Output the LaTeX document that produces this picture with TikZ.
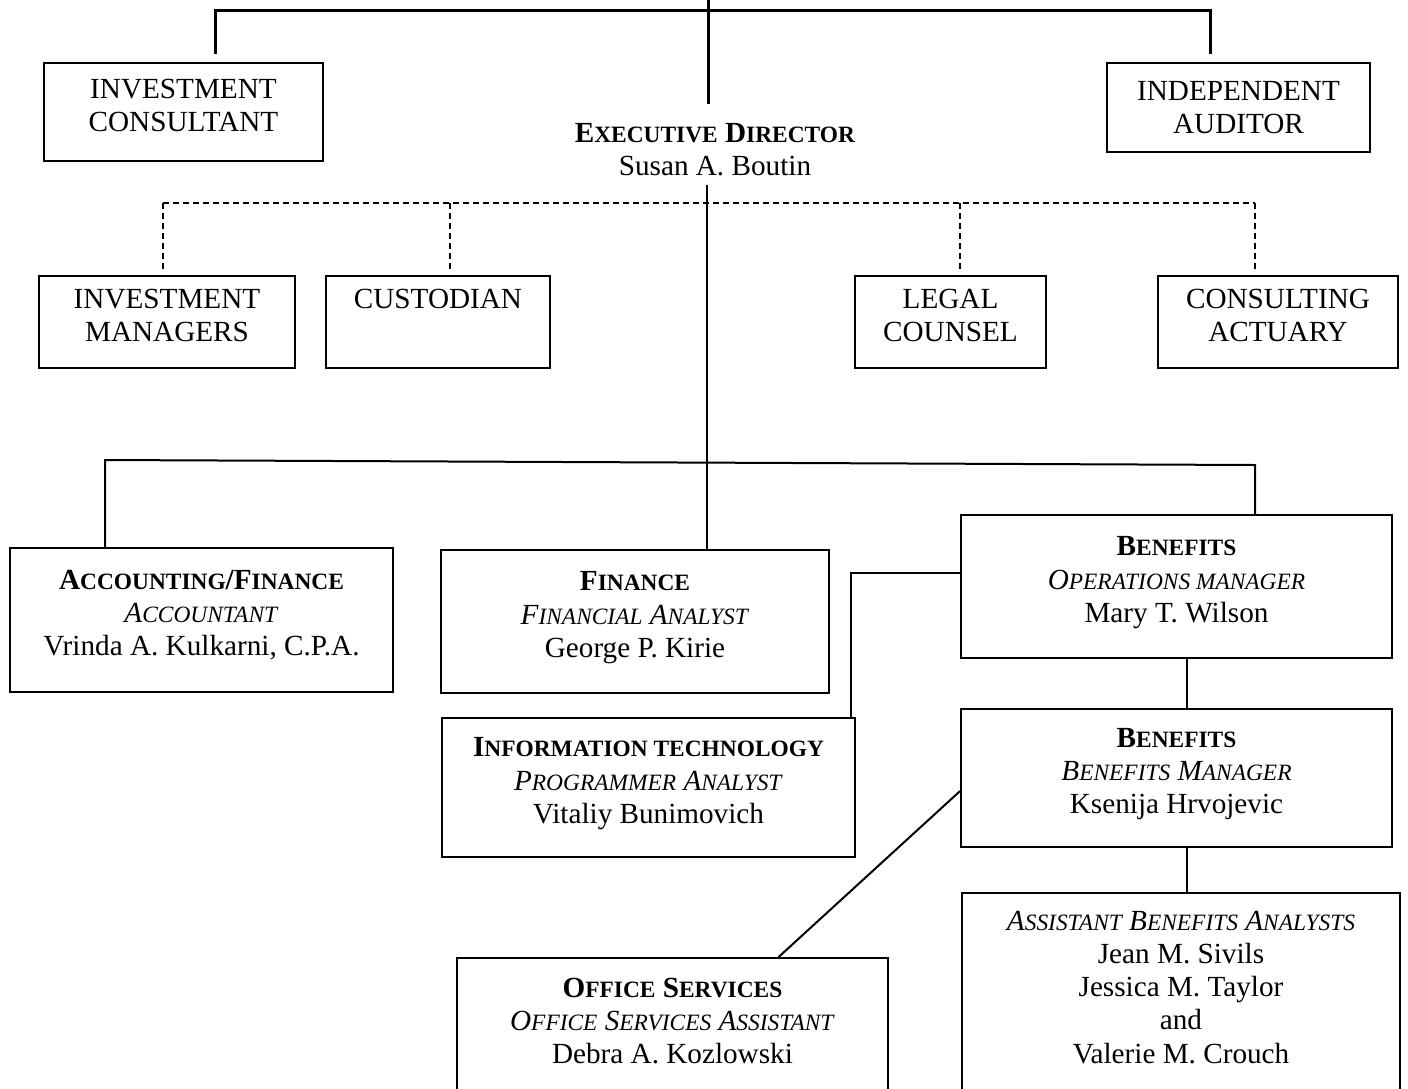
\documentclass[tikz,border=0pt]{standalone}
\usepackage{fontspec}
\setmainfont{Liberation Serif}
\newcommand\smc[1]{{\fontsize{11.7}{13}\selectfont #1}}

\begin{document}
\begin{tikzpicture}[x=0.5pt,y=-0.5pt,
  font=\fontsize{14.6}{16.6}\selectfont,
  box/.style={draw,line width=0.9pt,align=center,inner sep=2pt,text depth=7pt},
  link/.style={line width=1pt},
  heavy/.style={line width=1.5pt},
  ext/.style={dashed,dash pattern=on 3pt off 2pt,line width=0.6pt}]
\clip (0,0) rectangle (1408,1088);

% board level
\node(invc) at (183.5,112) [box, minimum width=139.5pt, minimum height=49pt]{INVESTMENT\\CONSULTANT};
\node(audit) at (1238.5,107.5) [box, text depth=0pt, minimum width=131.5pt, minimum height=44.5pt]{INDEPENDENT\\AUDITOR};
\node(exec) at (715,150) [align=center]{\textbf{E\smc{XECUTIVE} D\smc{IRECTOR}}\\Susan A. Boutin};

% outside services
\node(imgr) at (167,322) [box, minimum width=128pt, minimum height=46pt]{INVESTMENT\\MANAGERS};
\node(cust) at (438,322) [box, minimum width=112pt, minimum height=46pt]{CUSTODIAN\\\strut};
\node(legal) at (950.5,322) [box, minimum width=95.5pt, minimum height=46pt]{LEGAL\\COUNSEL};
\node(actu) at (1278,322) [box, minimum width=120pt, minimum height=46pt]{CONSULTING\\ACTUARY};

% staff
\node(acct) at (201.5,620) [box, minimum width=191.5pt, minimum height=72pt]{\textbf{A\smc{CCOUNTING}/F\smc{INANCE}}\\\textit{A\smc{CCOUNTANT}}\\Vrinda A. Kulkarni, C.P.A.};
\node(fin) at (635,621.5) [box, minimum width=194pt, minimum height=71.5pt]{\textbf{F\smc{INANCE}}\\\textit{F\smc{INANCIAL} A\smc{NALYST}}\\George P. Kirie};
\node(benops) at (1176.5,586.5) [box, minimum width=215.5pt, minimum height=71.5pt]{\textbf{B\smc{ENEFITS}}\\\textit{O\smc{PERATIONS MANAGER}}\\Mary T. Wilson};
\node(it) at (648.5,787.5) [box, minimum width=206.5pt, minimum height=69.5pt]{\textbf{I\smc{NFORMATION TECHNOLOGY}}\\\textit{P\smc{ROGRAMMER} A\smc{NALYST}}\\Vitaliy Bunimovich};
\node(benmgr) at (1176.5,778) [box, minimum width=215.5pt, minimum height=69pt]{\textbf{B\smc{ENEFITS}}\\\textit{B\smc{ENEFITS} M\smc{ANAGER}}\\Ksenija Hrvojevic};
\node(office) at (672.5,1028) [box, minimum width=215.5pt, minimum height=70pt]{\textbf{O\smc{FFICE} S\smc{ERVICES}}\\\textit{O\smc{FFICE} S\smc{ERVICES} A\smc{SSISTANT}}\\Debra A. Kozlowski};
\node(assist) at (1181,994) [box, minimum width=219pt, minimum height=101pt]{\textit{A\smc{SSISTANT} B\smc{ENEFITS} A\smc{NALYSTS}}\\Jean M. Sivils\\Jessica M. Taylor\\and\\Valerie M. Crouch};

% top bar
\coordinate(topin) at (708,0);
\coordinate(topout) at (708,104);
\coordinate(tl) at (215,10);
\coordinate(tr) at (1210,10);
\draw[heavy] (topin) -- (topout);
\draw[heavy,shorten <=4pt,shorten >=4pt] (invc.north -| tl) -- (tl) -- (tr) -- (audit.north -| tr);

% dashed bar
\coordinate(dl) at (163,203);
\coordinate(dr) at (1255,203);
\draw[ext] (dl) -- (dr);
\foreach \n/\x in {imgr/163,cust/450,legal/960,actu/1255}
  \draw[ext,shorten >=3pt] (\x,203) -- (\n.north -| \x,203);

% staff bar
\coordinate(spine) at (707,185);
\coordinate(bl) at (105,460);
\coordinate(br) at (1255,465);
\draw[link] (spine) -- (fin.north -| spine);
\draw[link] (acct.north -| bl) -- (bl) -- (br) -- (benops.north -| br);

\coordinate(itjog) at (851,573);
\draw[link] (benops.west |- itjog) -- (itjog) -- (it.north -| itjog);
\draw[link] ([xshift=5pt]benops.south) -- ([xshift=5pt]benmgr.north);
\draw[link] ([xshift=5pt]benmgr.south) -- ([xshift=5pt]benmgr.south |- assist.north);
\draw[link] ([yshift=-6.5pt]benmgr.west) -- ([xshift=53pt]office.north);

\end{tikzpicture}
\end{document}
